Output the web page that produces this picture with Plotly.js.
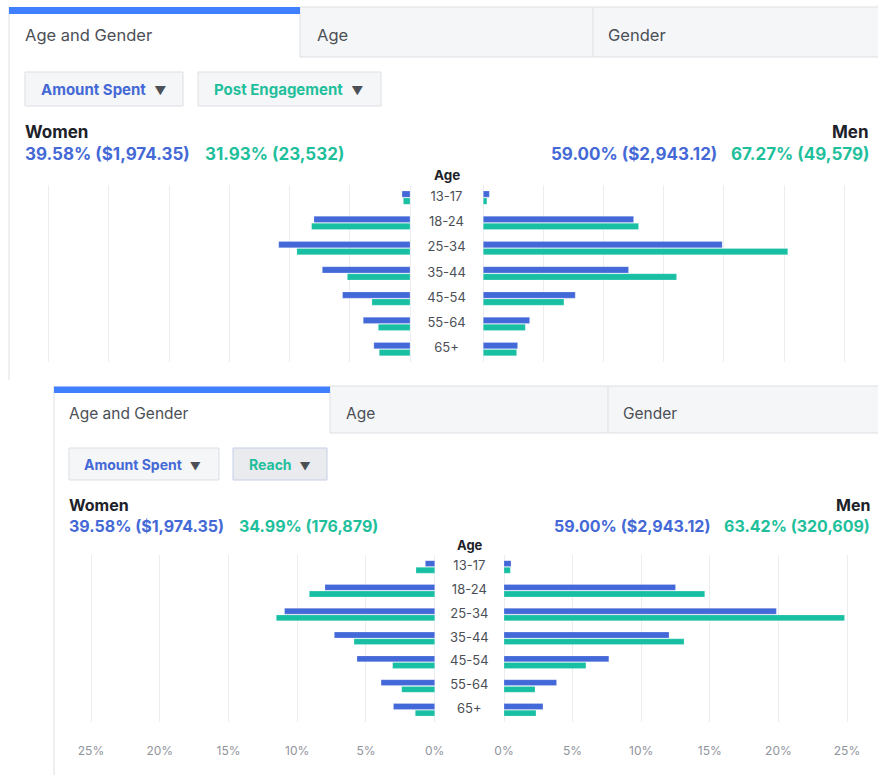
<!DOCTYPE html>
<html>
<head>
<meta charset="utf-8">
<script src="https://cdn.plot.ly/plotly-3.0.1.min.js"></script>
<style>
  html, body { margin: 0; padding: 0; background: #ffffff; }
  #chart { width: 878px; height: 775px; }
</style>
</head>
<body>
<div id="chart"></div>
<script>
// ---------- data ----------
const ages = ["13-17", "18-24", "25-34", "35-44", "45-54", "55-64", "65+"];

// Panel 1: Amount Spent vs Post Engagement (share of total, %)
const p1WomenSpent      = [0.66, 7.97, 10.90, 7.28, 5.60, 3.88, 3.00];
const p1WomenEngagement = [0.55, 8.17, 9.39, 5.20, 3.16, 2.63, 2.55];
const p1MenSpent        = [0.50, 12.49, 19.85, 12.07, 7.64, 3.85, 2.85];
const p1MenEngagement   = [0.30, 12.90, 25.30, 16.06, 6.70, 3.49, 2.77];

// Panel 2: Amount Spent vs Reach (share of total, %)
const p2WomenSpent = [0.68, 7.98, 10.92, 7.30, 5.65, 3.90, 3.00];
const p2WomenReach = [1.36, 9.12, 11.52, 5.87, 3.06, 2.40, 1.41];
const p2MenSpent   = [0.51, 12.50, 19.85, 12.03, 7.64, 3.83, 2.84];
const p2MenReach   = [0.46, 14.63, 24.82, 13.12, 5.97, 2.26, 2.33];

const p1Tabs = ["Age and Gender", "Age", "Gender"];
const p1Metrics = ["Amount Spent", "Post Engagement"];
const p1Women = ["39.58% ($1,974.35)", "31.93% (23,532)"];
const p1Men = ["59.00% ($2,943.12)", "67.27% (49,579)"];

const p2Tabs = ["Age and Gender", "Age", "Gender"];
const p2Metrics = ["Amount Spent", "Reach"];
const p2Women = ["39.58% ($1,974.35)", "34.99% (176,879)"];
const p2Men = ["59.00% ($2,943.12)", "63.42% (320,609)"];

const p1Ticks = [0, 5, 10, 15, 20, 25, 30];
const p2Ticks = [0, 5, 10, 15, 20, 25];

// ---------- styling ----------
const W = 878, H = 775;
const X = px => px / W;
const Y = py => 1 - py / H;
const FONT = "Inter, 'Noto Sans', 'DejaVu Sans', sans-serif";
const BLUE = "#4368d8";
const TEAL = "#18bfa3";
const BLUE_TXT = "#4469d6";
const TEAL_TXT = "#1fbf9c";
const DARK = "#1d2129";
const GRAY = "#4b4f56";
const GRID = "#ebedf0";
const BORDER = "#dddfe2";

function barTrace(vals, color, xa, ya, name) {
  return {
    type: "bar", orientation: "h", x: vals, y: ages, name: name,
    xaxis: xa, yaxis: ya,
    marker: { color: color, line: { color: "rgba(255,255,255,0.35)", width: 0.6 } },
    hoverinfo: "skip", showlegend: false
  };
}
function labelTrace(xa, ya) {
  return {
    type: "scatter", mode: "text", x: ages.map(() => 0), y: ages, text: ages,
    xaxis: xa, yaxis: ya, textposition: "middle center",
    textfont: { family: FONT, size: 13, color: GRAY },
    hoverinfo: "skip", showlegend: false, cliponaxis: false
  };
}

const traces = [
  barTrace(p1WomenSpent, BLUE, "x", "y", "Women spent"),
  barTrace(p1WomenEngagement, TEAL, "x", "y", "Women engagement"),
  barTrace(p1MenSpent, BLUE, "x2", "y", "Men spent"),
  barTrace(p1MenEngagement, TEAL, "x2", "y", "Men engagement"),
  labelTrace("x3", "y"),
  barTrace(p2WomenSpent, BLUE, "x4", "y2", "Women spent"),
  barTrace(p2WomenReach, TEAL, "x4", "y2", "Women reach"),
  barTrace(p2MenSpent, BLUE, "x5", "y2", "Men spent"),
  barTrace(p2MenReach, TEAL, "x5", "y2", "Men reach"),
  labelTrace("x6", "y2")
];

// value axis: zeroPx = pixel of 0%, maxPx = pixel of maxVal; padded by 2px so edge gridlines draw
function valAxis(zeroPx, maxPx, maxVal, anchor, ticks, showLabels) {
  const pxPer = Math.abs(maxPx - zeroPx) / maxVal;
  const pad = 2 / pxPer;
  const rev = maxPx < zeroPx;
  const dom = rev ? [maxPx - 2, zeroPx + 2] : [zeroPx - 2, maxPx + 2];
  const range = rev ? [maxVal + pad, -pad] : [-pad, maxVal + pad];
  return {
    domain: [X(dom[0]), X(dom[1])], range: range, anchor: anchor,
    tickmode: "array", tickvals: ticks, ticktext: ticks.map(t => t + "%"),
    showticklabels: showLabels, ticks: "", ticklabelstandoff: 20,
    tickfont: { family: FONT, size: 12, color: "#90949c" },
    showgrid: true, gridcolor: GRID, gridwidth: 1, zeroline: false,
    showline: false, fixedrange: true
  };
}
function centerAxis(domainPx, anchor) {
  return { domain: [X(domainPx[0]), X(domainPx[1])], range: [-1, 1], anchor: anchor,
           visible: false, fixedrange: true };
}
function catAxis(topPx, botPx, anchor) {
  return { domain: [Y(botPx), Y(topPx)], type: "category", categoryarray: ages,
           autorange: "reversed", anchor: anchor, showticklabels: false,
           showgrid: false, zeroline: false, showline: false, ticks: "", fixedrange: true };
}

// ---------- decorations ----------
const shapes = [];
function rect(x0, y0, x1, y1, fill, line) {
  shapes.push({ type: "rect", xref: "paper", yref: "paper",
    x0: X(x0), x1: X(x1), y0: Y(y1), y1: Y(y0), fillcolor: fill,
    line: line ? { color: line, width: 1 } : { width: 0 }, layer: "below" });
}
function line(x0, y0, x1, y1, color) {
  shapes.push({ type: "line", xref: "paper", yref: "paper",
    x0: X(x0), x1: X(x1), y0: Y(y0), y1: Y(y1),
    line: { color: color || BORDER, width: 1 }, layer: "below" });
}
const annotations = [];
function txt(text, x, y, opts) {
  opts = opts || {};
  annotations.push({ text: text, xref: "paper", yref: "paper", x: X(x), y: Y(y),
    xanchor: opts.xanchor || "left", yanchor: "middle", showarrow: false,
    borderpad: 0, borderwidth: 0,
    font: { family: FONT, size: opts.size || 17, color: opts.color || GRAY,
            weight: opts.weight || 400 } });
}
const tri1 = '  <span style="color:#4b4f56;font-size:12px">▼</span>';
const tri2 = '  <span style="color:#4b4f56;font-size:11px">▼</span>';

// Panel 1 chrome
rect(300, 7, 878, 57, "#f5f6f7", null);
line(300, 7, 878, 7);
line(300, 57, 878, 57);
line(300, 7, 300, 57);
line(593, 7, 593, 57);
line(9, 7, 9, 380);
rect(9, 7, 300, 14, "#4080ff", null);
rect(25, 72, 183, 106, "#f5f6f7", BORDER);
rect(198, 72, 381, 106, "#f5f6f7", BORDER);

txt(p1Tabs[0], 25, 35, { size: 16.5 });
txt(p1Tabs[1], 317, 35, { size: 16.5 });
txt(p1Tabs[2], 608, 35, { size: 16.5 });
txt("<b>" + p1Metrics[0] + "</b>" + tri1, 41, 89, { size: 15, color: BLUE_TXT });
txt("<b>" + p1Metrics[1] + "</b>" + tri1, 214, 89, { size: 15, color: TEAL_TXT });
txt("<b>Women</b>", 25, 132, { color: DARK });
txt("<b>" + p1Women[0] + "</b>", 25, 154, { color: BLUE_TXT });
txt("<b>" + p1Women[1] + "</b>", 205, 154, { color: TEAL_TXT });
txt("<b>Men</b>", 869, 132, { color: DARK, xanchor: "right" });
txt("<b>" + p1Men[0] + "</b>", 717, 154, { color: BLUE_TXT, xanchor: "right" });
txt("<b>" + p1Men[1] + "</b>", 869, 154, { color: TEAL_TXT, xanchor: "right" });
txt("<b>Age</b>", 447, 175, { size: 13.5, color: DARK, xanchor: "center" });

// Panel 2 chrome
rect(330, 386, 878, 433, "#f5f6f7", null);
line(330, 386, 878, 386);
line(330, 433, 878, 433);
line(330, 386, 330, 433);
line(608, 386, 608, 433);
line(54, 386, 54, 775);
rect(54, 386.5, 330, 393, "#4080ff", null);
rect(69, 448, 219, 480, "#f5f6f7", BORDER);
rect(233, 448, 327, 480, "#e9ebee", "#c5d0e6");

txt(p2Tabs[0], 69, 413, { size: 15.5 });
txt(p2Tabs[1], 346, 413, { size: 15.5 });
txt(p2Tabs[2], 623, 413, { size: 15.5 });
txt("<b>" + p2Metrics[0] + "</b>" + tri2, 84, 464, { size: 14, color: BLUE_TXT });
txt("<b>" + p2Metrics[1] + "</b>" + tri2, 249, 464, { size: 14, color: TEAL_TXT });
txt("<b>Women</b>", 69, 505, { size: 16, color: DARK });
txt("<b>" + p2Women[0] + "</b>", 69, 526, { size: 16, color: BLUE_TXT });
txt("<b>" + p2Women[1] + "</b>", 239, 526, { size: 16, color: TEAL_TXT });
txt("<b>Men</b>", 870, 505, { size: 16, color: DARK, xanchor: "right" });
txt("<b>" + p2Men[0] + "</b>", 710, 526, { size: 16, color: BLUE_TXT, xanchor: "right" });
txt("<b>" + p2Men[1] + "</b>", 870, 526, { size: 16, color: TEAL_TXT, xanchor: "right" });
txt("<b>Age</b>", 470, 545, { size: 13, color: DARK, xanchor: "center" });

const layout = {
  width: W, height: H,
  margin: { l: 0, r: 0, t: 0, b: 0 },
  paper_bgcolor: "#ffffff", plot_bgcolor: "rgba(0,0,0,0)",
  barmode: "group", bargap: 0.44, bargroupgap: 0.12,
  showlegend: false,
  font: { family: FONT },
  xaxis:  valAxis(410, 48.7, 30, "y", p1Ticks, false),
  xaxis2: valAxis(483.3, 844.3, 30, "y", p1Ticks, false),
  xaxis3: centerAxis([412, 481], "y"),
  yaxis:  catAxis(185, 361.7, "x"),
  xaxis4: valAxis(434.7, 91, 25, "y2", p2Ticks, true),
  xaxis5: valAxis(504, 847, 25, "y2", p2Ticks, true),
  xaxis6: centerAxis([436.7, 502], "y2"),
  yaxis2: catAxis(555, 721.7, "x4"),
  shapes: shapes,
  annotations: annotations
};

Plotly.newPlot("chart", traces, layout, { displayModeBar: false, staticPlot: true });
</script>
</body>
</html>
